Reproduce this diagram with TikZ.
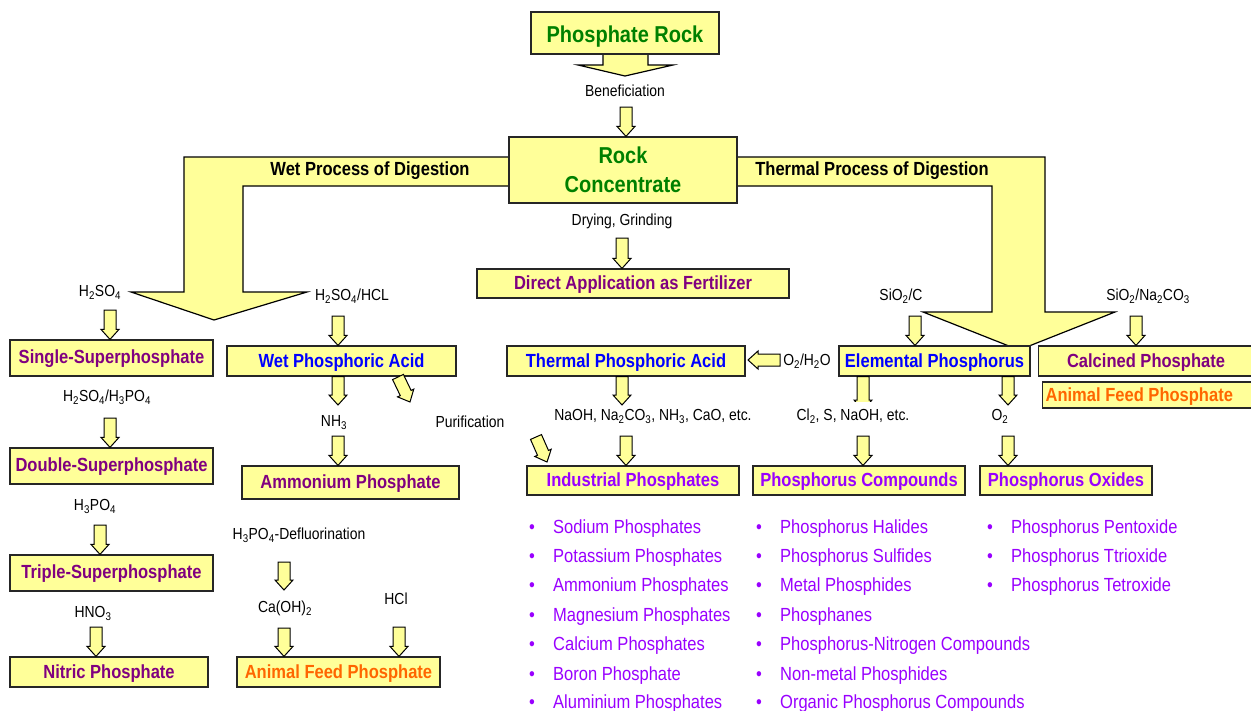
\documentclass[tikz,border=0pt]{standalone}
\usepackage{fontspec}
\setmainfont{Liberation Sans}[FakeStretch=0.87]
\usetikzlibrary{calc}
\definecolor{boxyellow}{HTML}{FFFF99}
\definecolor{rockgreen}{HTML}{008000}
\definecolor{prodpurple}{HTML}{800080}
\definecolor{acidblue}{HTML}{0000FF}
\definecolor{listviolet}{HTML}{9900FF}
\definecolor{feedorange}{HTML}{FF6600}
\newcommand{\chsub}[1]{\textsubscript{#1}}
\newcommand{\blt}{\makebox[24pt][l]{\textbullet}}

\begin{document}
\begin{tikzpicture}[
    x=1pt, y=-1pt,
    %
    box/.style={draw=black!85, line width=1.2pt, fill=boxyellow, inner sep=0pt,
        font=\bfseries\fontsize{19}{22}\selectfont, text height=14pt, text depth=2pt},
    reag/.style={font=\fontsize{16}{19}\selectfont, inner sep=1pt, text height=12pt, text depth=3pt},
    lbl/.style={font=\bfseries\fontsize{19}{22}\selectfont, inner sep=1pt, text height=14pt, text depth=4pt},
    item/.style={anchor=west, inner sep=0pt, text=listviolet, font=\fontsize{19}{22}\selectfont,
        text height=14pt, text depth=4pt},
    %
    bigarrow/.style={draw=black, line width=1.2pt, fill=boxyellow},
    blk/.style={draw=black, line width=1pt, fill=boxyellow,
        to path={let \p1=(\tikztostart), \p2=(\tikztotarget), \p3=($(\p2)!10pt!(\p1)$) in
            ($(\p1)!6pt!90:(\p2)$) -- ($(\p3)!6pt!90:(\p2)$) -- ($(\p3)!9pt!90:(\p2)$) -- (\p2)
            -- ($(\p3)!9pt!-90:(\p2)$) -- ($(\p3)!6pt!-90:(\p2)$) -- ($(\p1)!6pt!-90:(\p2)$) -- cycle}}
    ]
    \useasboundingbox (0,0) rectangle (1251,710);

    % big arrows
    \draw[bigarrow] (603,48) -- (603,65) -- (578,65) -- (625,76) -- (673,65) -- (648,65) -- (648,48) -- cycle;
    \draw[bigarrow] (520,157) -- (184,157) -- (184,292) -- (131,292) -- (214,320) -- (307,292)
        -- (243,292) -- (243,186) -- (520,186) -- cycle;
    \draw[bigarrow] (727,157) -- (1045,157) -- (1045,312) -- (1115,312) -- (1019,350) -- (923,312)
        -- (992,312) -- (992,186) -- (727,186) -- cycle;

    % boxes
    \node[box, minimum width=188, minimum height=42, text=rockgreen, font=\bfseries\fontsize{23}{28}\selectfont,
        text height=19pt, text depth=0pt] (phrock) at (625,33) {Phosphate Rock};
    \node[box, minimum width=228, minimum height=66, text=rockgreen, align=center,
        font=\bfseries\fontsize{23}{29.5}\selectfont, text height={}, text depth={}]
        (rockconc) at (623,170) {Rock\\Concentrate};
    \node[box, minimum width=312, minimum height=29, text=prodpurple] (directapp) at (633,283.5) {Direct Application as Fertilizer};
    \node[box, minimum width=203, minimum height=36, text=prodpurple, text depth=4pt] (ssp) at (111.5,358) {Single-Superphosphate};
    \node[box, minimum width=203, minimum height=36, text=prodpurple, text depth=4pt] (dsp) at (111.5,466) {Double-Superphosphate};
    \node[box, minimum width=203, minimum height=36, text=prodpurple, text depth=4pt] (tsp) at (111.5,573) {Triple-Superphosphate};
    \node[box, minimum width=198, minimum height=30, text=prodpurple] (nitric) at (109,672) {Nitric Phosphate};
    \node[box, minimum width=229, minimum height=30, text=acidblue] (wpa) at (341.5,361) {Wet Phosphoric Acid};
    \node[box, minimum width=217, minimum height=33, text=prodpurple] (ammon) at (350.5,482.5) {Ammonium Phosphate};
    \node[box, minimum width=203, minimum height=30, text=feedorange] (afpwet) at (338.5,672) {Animal Feed Phosphate};
    \node[box, minimum width=238, minimum height=30, text=acidblue] (tpa) at (626,361) {Thermal Phosphoric Acid};
    \node[box, minimum width=191, minimum height=30, text=acidblue] (elemp) at (934.5,361) {Elemental Phosphorus};
    \node[box, minimum width=215, minimum height=30, text=prodpurple] (calc) at (1146,361) {Calcined Phosphate};
    \node[box, anchor=west, minimum height=26, text width=214pt, align=flush left, inner xsep=3pt,
        text depth=1pt, text=feedorange] (afpcalc) at (1042,395) {Animal Feed Phosphate};
    \node[box, minimum width=212, minimum height=29, text=listviolet] (indph) at (633,480.5) {Industrial Phosphates};
    \node[box, minimum width=212, minimum height=29, text=listviolet] (pcomp) at (859,480.5) {Phosphorus Compounds};
    \node[box, minimum width=172, minimum height=29, text=listviolet] (poxid) at (1066,480.5) {Phosphorus Oxides};

    % free ends of the small arrows
    \coordinate (benefa) at (626,107);
    \coordinate (drya)   at (622,238);
    \coordinate (ssa)    at (110,310);
    \coordinate (dsa)    at (110,418);
    \coordinate (tsa)    at (100,525);
    \coordinate (nia)    at (96,627);
    \coordinate (wpaa)   at (338,316);
    \coordinate (nhb)    at (338,405);
    \coordinate (nha)    at (338,436);
    \coordinate (pfa)    at (398,377);
    \coordinate (pfb)    at (410,402);
    \coordinate (dfa)    at (284,562);
    \coordinate (dfb)    at (284,590);
    \coordinate (caa)    at (284,628);
    \coordinate (hca)    at (399,627);
    \coordinate (sca)    at (915,316);
    \coordinate (sna)    at (1136,316);
    \coordinate (oha)    at (780,360);
    \coordinate (ohb)    at (748,360);
    \coordinate (tpb)    at (622,405);
    \coordinate (naa)    at (626,436);
    \coordinate (ppa)    at (536,437);
    \coordinate (ppb)    at (547,462);
    \coordinate (clb)    at (863,410);
    \coordinate (cla)    at (863,436);
    \coordinate (oxb)    at (1008,405);
    \coordinate (oxa)    at (1008,436);

    % small arrows
    \draw[blk] (benefa) to (benefa |- rockconc.north);
    \draw[blk] (drya) to (drya |- directapp.north);
    \draw[blk] (ssa) to (ssa |- ssp.north);
    \draw[blk] (dsa) to (dsa |- dsp.north);
    \draw[blk] (tsa) to (tsa |- tsp.north);
    \draw[blk] (nia) to (nia |- nitric.north);
    \draw[blk] (wpaa) to (wpaa |- wpa.north);
    \draw[blk] (nhb |- wpa.south) to (nhb);
    \draw[blk] (nha) to (nha |- ammon.north);
    \draw[blk] (pfa) to (pfb);
    \draw[blk] (dfa) to (dfb);
    \draw[blk] (caa) to (caa |- afpwet.north);
    \draw[blk] (hca) to (hca |- afpwet.north);
    \draw[blk] (sca) to (sca |- elemp.north);
    \draw[blk] (sna) to (sna |- calc.north);
    \draw[blk] (oha) to (ohb);
    \draw[blk] (tpb |- tpa.south) to (tpb);
    \draw[blk] (naa) to (naa |- indph.north);
    \draw[blk] (ppa) to (ppb);
    \draw[blk] (clb |- elemp.south) to (clb);
    \draw[blk] (cla) to (cla |- pcomp.north);
    \draw[blk] (oxb |- elemp.south) to (oxb);
    \draw[blk] (oxa) to (oxa |- poxid.north);

    % process labels
    \node[lbl] (wetlbl) at (370,170) {Wet Process of Digestion};
    \node[lbl] (thermlbl) at (872,170) {Thermal Process of Digestion};

    % reagents and steps
    \node[reag] (benef) at (625,92) {Beneficiation};
    \node[reag] (drying) at (622,221) {Drying, Grinding};
    \node[reag] (h2so4) at (100,292) {H\chsub{2}SO\chsub{4}};
    \node[reag] (h2so4hcl) at (352,296) {H\chsub{2}SO\chsub{4}/HCL};
    \node[reag] (sio2c) at (901,296) {SiO\chsub{2}/C};
    \node[reag] (sio2na) at (1148,296) {SiO\chsub{2}/Na\chsub{2}CO\chsub{3}};
    \node[reag] (h2so4h3po4) at (107,397) {H\chsub{2}SO\chsub{4}/H\chsub{3}PO\chsub{4}};
    \node[reag] (h3po4) at (95,506) {H\chsub{3}PO\chsub{4}};
    \node[reag] (hno3) at (93,613) {HNO\chsub{3}};
    \node[reag] (nh3) at (334,422) {NH\chsub{3}};
    \node[reag] (purif) at (470,423) {Purification};
    \node[reag] (defluor) at (299,535) {H\chsub{3}PO\chsub{4}-Defluorination};
    \node[reag] (caoh) at (285,608) {Ca(OH)\chsub{2}};
    \node[reag] (hcl) at (396,600) {HCl};
    \node[reag] (o2h2o) at (807,361) {O\chsub{2}/H\chsub{2}O};
    \node[reag] (naoh) at (653,416) {NaOH, Na\chsub{2}CO\chsub{3}, NH\chsub{3}, CaO, etc.};
    \node[reag, fill=white, inner ysep=6.5pt] (cl2) at (853,416) {Cl\chsub{2}, S, NaOH, etc.};
    \node[reag] (o2) at (1000,416) {O\chsub{2}};

    % product lists
    \node[item] (ip1) at (529,528) {\blt Sodium Phosphates};
    \node[item] (ip2) at (529,557) {\blt Potassium Phosphates};
    \node[item] (ip3) at (529,586) {\blt Ammonium Phosphates};
    \node[item] (ip4) at (529,616) {\blt Magnesium Phosphates};
    \node[item] (ip5) at (529,645) {\blt Calcium Phosphates};
    \node[item] (ip6) at (529,675) {\blt Boron Phosphate};
    \node[item] (ip7) at (529,703) {\blt Aluminium Phosphates};
    \node[item] (pc1) at (756,528) {\blt Phosphorus Halides};
    \node[item] (pc2) at (756,557) {\blt Phosphorus Sulfides};
    \node[item] (pc3) at (756,586) {\blt Metal Phosphides};
    \node[item] (pc4) at (756,616) {\blt Phosphanes};
    \node[item] (pc5) at (756,645) {\blt Phosphorus-Nitrogen Compounds};
    \node[item] (pc6) at (756,675) {\blt Non-metal Phosphides};
    \node[item] (pc7) at (756,703) {\blt Organic Phosphorus Compounds};
    \node[item] (po1) at (987,528) {\blt Phosphorus Pentoxide};
    \node[item] (po2) at (987,557) {\blt Phosphorus Ttrioxide};
    \node[item] (po3) at (987,586) {\blt Phosphorus Tetroxide};
    %
\end{tikzpicture}
\end{document}
